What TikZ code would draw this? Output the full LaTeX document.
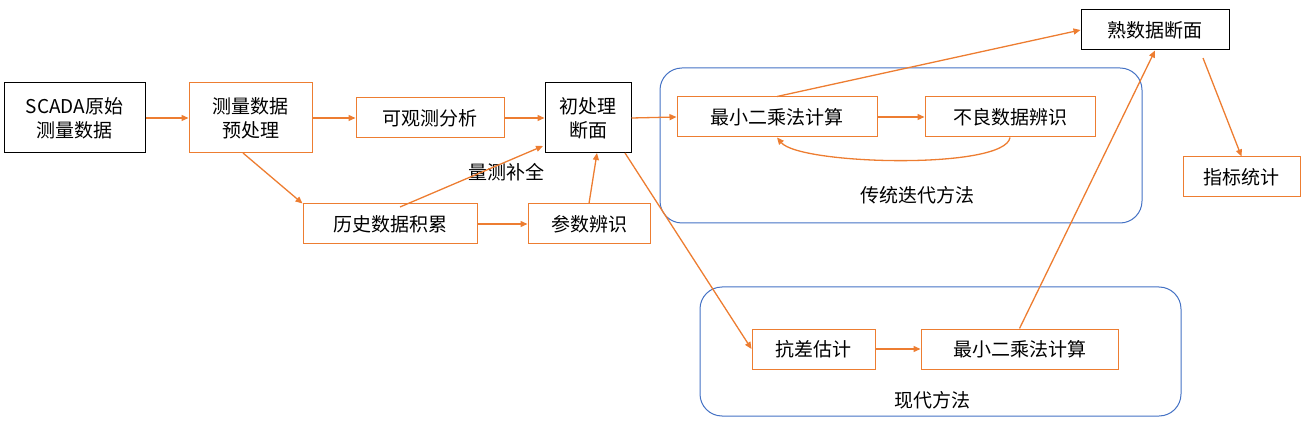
\documentclass[tikz,border=0pt]{standalone}
\usepackage{fontspec}
\setmainfont{Noto Sans CJK SC}
\usetikzlibrary{arrows.meta}
\definecolor{org}{RGB}{237,125,49}
\definecolor{blu}{RGB}{68,114,196}
\begin{document}
\begin{tikzpicture}[x=1pt,y=-1pt,
  every node/.style={font=\fontsize{19}{24}\selectfont, inner sep=0pt},
  ob/.style={draw=org, line width=1pt, minimum width=#1, minimum height=40, align=center},
  bb/.style={draw=black, line width=1pt, minimum width=#1, minimum height=40, align=center},
  grp/.style={draw=blu, line width=1pt, rounded corners=22},
  arr/.style={draw=org, line width=1.3pt, -{Triangle[length=7pt,width=6pt]}}]
\useasboundingbox (0,0) rectangle (1308,435);
\draw[grp] (660,68) rectangle (1142,223);
\draw[grp] (700,287) rectangle (1181,416);
\node[bb=141, minimum height=70] (scada) at (74.5,118) {SCADA原始\\测量数据};
\node[ob=123, minimum height=70] (pre) at (250.5,118) {测量数据\\预处理};
\node[ob=148] (obs) at (430,118) {可观测分析};
\node[bb=86, minimum height=70] (init) at (588,118) {初处理\\断面};
\node[ob=200] (ls1) at (777,117) {最小二乘法计算};
\node[ob=170] (bad) at (1010,117) {不良数据辨识};
\node (trad) at (917,195) {传统迭代方法};
\node[bb=148] (cooked) at (1155,30) {熟数据断面};
\node[ob=117] (stat) at (1241.5,177) {指标统计};
\node[ob=174] (hist) at (390,224) {历史数据积累};
\node[ob=122] (param) at (589,224) {参数辨识};
\node (fill) at (506,172) {量测补全};
\node[ob=123] (rob) at (813.5,349) {抗差估计};
\node[ob=197] (ls2) at (1019.5,349) {最小二乘法计算};
\node (modern) at (932,400) {现代方法};
\draw[arr] (scada) -- (pre);
\draw[arr] (pre.east) -- (obs.west);
\draw[arr] (243,153) -- (hist.north west);
\draw[arr] (obs.east) -- (init.west |- obs.east);
\draw[arr] (400,207) -- (543,146);
\draw[arr] (hist) -- (param);
\draw[arr] (param.north) -- (597,153);
\draw[arr] (init.east) -- (ls1.west);
\draw[arr] (ls1) -- (bad);
\draw[arr] (bad.south) .. controls (1005,170) and (800,165) .. (ls1.south);
\draw[arr] (ls1.north) -- (cooked.west);
\draw[arr] (625,153) -- (rob.west);
\draw[arr] (rob) -- (ls2);
\draw[arr] (ls2.north) -- (cooked.south);
\draw[arr] (1203,58) -- (stat.north);
\end{tikzpicture}
\end{document}
